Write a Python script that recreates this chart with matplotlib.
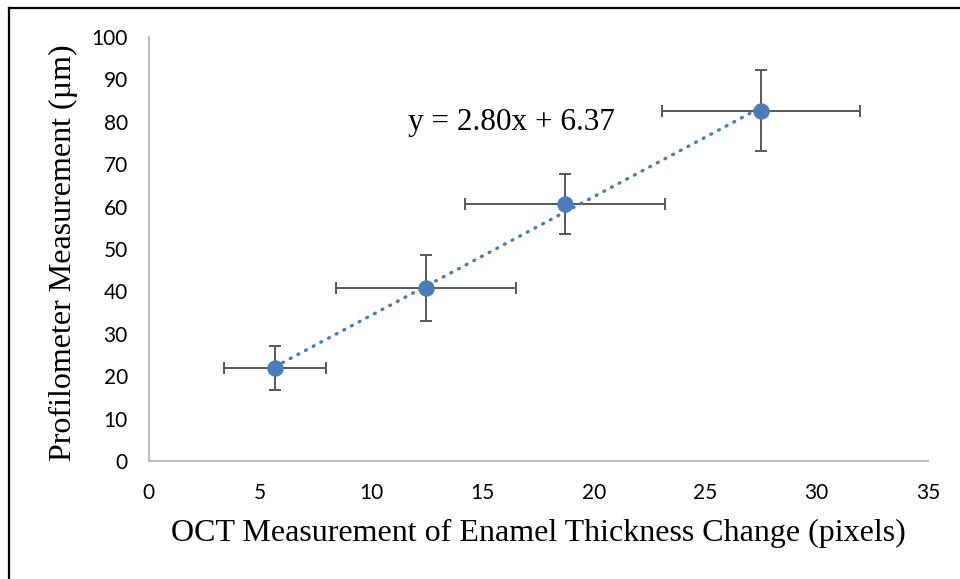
import numpy as np
import matplotlib
matplotlib.use("Agg")
import matplotlib.pyplot as plt
from matplotlib.lines import Line2D

# values
oct_px = [5.67, 12.45, 18.7, 27.5]
oct_err = [2.28, 4.06, 4.5, 4.43]
prof_um = [21.9, 40.8, 60.6, 82.6]
prof_err = [5.2, 7.8, 7.0, 9.6]
slope, intercept = 2.80, 6.37

xticks = [0, 5, 10, 15, 20, 25, 30, 35]
yticks = [0, 10, 20, 30, 40, 50, 60, 70, 80, 90, 100]

blue = '#4a7ebb'
grey = '#595959'
serif = ['Liberation Serif', 'DejaVu Serif']
tickfont = ['Lato', 'DejaVu Sans']

fig = plt.figure(figsize=(9.6, 5.79), dpi=100)
ax = fig.add_axes([148.7 / 960, 1 - 461 / 579, (928 - 148.7) / 960, (461 - 37) / 579])

# trendline over the data range
xs = np.array([min(oct_px), max(oct_px)])
ax.plot(xs, slope * xs + intercept, color=blue, lw=2.4,
        linestyle=(0, (0.3, 2.3)), dash_capstyle='round', zorder=2)

ax.errorbar(oct_px, prof_um, xerr=oct_err, yerr=prof_err, fmt='none',
            ecolor=grey, elinewidth=1.4, capsize=4.3, capthick=1.4, zorder=1)
ax.plot(oct_px, prof_um, 'o', color=blue, ms=10.8, zorder=3)

ax.text(16.3, 78.1, 'y = 2.80x + 6.37', ha='center', va='baseline',
        fontsize=22.5, family=serif)

ax.set_xlim(0, 35)
ax.set_ylim(0, 100)
ax.set_xticks(xticks)
ax.set_yticks(yticks)
ax.tick_params(length=0, labelsize=15, colors='black')
ax.tick_params(axis='x', pad=16)
ax.tick_params(axis='y', pad=15)
for lab in ax.get_xticklabels() + ax.get_yticklabels():
    lab.set_family(tickfont)

for s in ['top', 'right']:
    ax.spines[s].set_visible(False)
for s in ['left', 'bottom']:
    ax.spines[s].set_color('#bfbfbf')
    ax.spines[s].set_linewidth(1.5)

fig.text(538 / 960, 1 - 533 / 579, 'OCT Measurement of Enamel Thickness Change (pixels)',
         ha='center', va='center', fontsize=23, family=serif)
fig.text(63 / 960, 1 - 253 / 579, 'Profilometer Measurement (\u00b5m)',
         ha='center', va='center', rotation=90, fontsize=23, family=serif)

# outer frame (only top and left edges visible)
fig.add_artist(Line2D([9 / 960, 9 / 960], [0, 1 - 8.3 / 579], color='black', lw=1.6))
fig.add_artist(Line2D([9 / 960, 1], [1 - 8.3 / 579, 1 - 8.3 / 579], color='black', lw=1.6))

fig.savefig('out.png', dpi=100)
